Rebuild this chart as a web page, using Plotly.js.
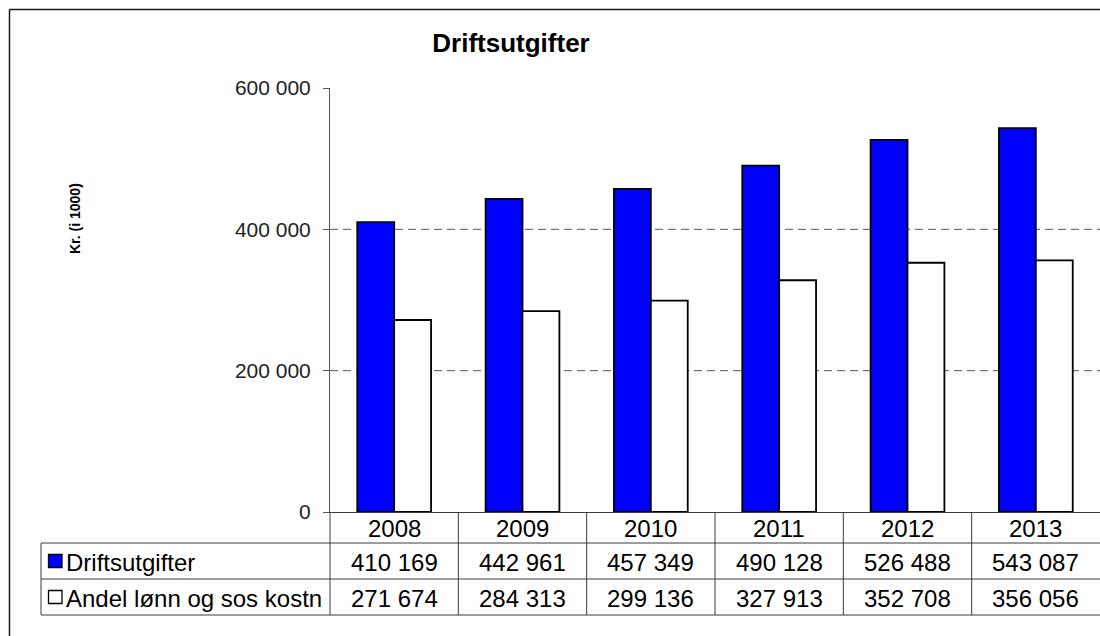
<!DOCTYPE html>
<html><head><meta charset="utf-8">
<script src="https://cdn.plot.ly/plotly-3.0.1.min.js"></script>
<style>html,body{margin:0;padding:0;overflow:hidden;background:#fff}</style>
</head><body><div id="chart" style="width:1100px;height:636px"></div>
<script>
const years = ['2008','2009','2010','2011','2012','2013'];
const driftsutgifter = [410169,442961,457349,490128,526488,543087];
const andelLonn = [271674,284313,299136,327913,352708,356056];
const seriesNames = ['Driftsutgifter','Andel lønn og sos kostn'];
const seriesColors = ['#0000FF','#FFFFFF'];
const yTickVals = [0,200000,400000,600000];
const gridVals = [200000,400000];
const chartTitle = 'Driftsutgifter';
const yTitle = 'Kr. (i 1000)';

const FONT = 'Liberation Sans, Arial, sans-serif';
const W=1100,H=636,L=330,R=0,T=88,B=124;
const PW=W-L-R, PH=H-T-B;
const px = x => (x-L)/PW;
const py = y => (H-B-y)/PH;
const fmt = v => String(v).replace(/\B(?=(\d{3})+(?!\d))/g,' ');
const n = years.length;

const seriesVals = [driftsutgifter, andelLonn];
const traces = seriesVals.map((vals,i)=>({
  type:'bar', x:years, y:vals, name:seriesNames[i],
  marker:{color:seriesColors[i], line:{color:'#000', width:1.8}},
  hoverinfo:'skip'
}));

const lineCol = '#3a3a3a';
const shapes = [];
// outer frame (cut off at right & bottom)
shapes.push({type:'line', xref:'paper', yref:'paper', x0:px(9.5), x1:px(1100), y0:py(9.5), y1:py(9.5),
  line:{color:'#1a1a1a', width:1.5}});
shapes.push({type:'line', xref:'paper', yref:'paper', x0:px(9.5), x1:px(9.5), y0:py(9.5), y1:py(636),
  line:{color:'#1a1a1a', width:1.5}});
// gridlines
gridVals.forEach(v=>shapes.push({type:'line', xref:'paper', yref:'y', x0:0, x1:1, y0:v, y1:v,
  line:{color:'#555', width:1, dash:'8px,5px'}, layer:'below'}));
// table horizontal lines
[543,579,615].forEach(y=>shapes.push({type:'line', xref:'paper', yref:'paper', x0:px(41), x1:1, y0:py(y), y1:py(y),
  line:{color:lineCol, width:1}}));
// table vertical lines between categories
for(let i=0;i<n;i++){
  shapes.push({type:'line', xref:'paper', yref:'paper', x0:i/n, x1:i/n, y0:py(512), y1:py(615),
    line:{color:lineCol, width:1}});
}
// left border of label column
shapes.push({type:'line', xref:'paper', yref:'paper', x0:px(41), x1:px(41), y0:py(543), y1:py(615),
  line:{color:lineCol, width:1}});
// legend keys
const rowCenters = [561,597];
rowCenters.forEach((c,i)=>shapes.push({type:'rect', xref:'paper', yref:'paper',
  x0:px(48.5), x1:px(62), y0:py(c-6.5), y1:py(c+6.5),
  fillcolor:seriesColors[i], line:{color:'#000', width:1.3}}));

const annotations = [];
const tfont = {family:FONT, size:24, color:'#000'};
years.forEach((yr,j)=>{
  const cx = (j+0.5)/n;
  annotations.push({xref:'paper', yref:'paper', x:cx, y:py(528), text:yr, showarrow:false, font:tfont,
    xanchor:'center', yanchor:'middle'});
  seriesVals.forEach((vals,i)=>annotations.push({xref:'paper', yref:'paper', x:cx, y:py(rowCenters[i]+1), text:fmt(vals[j]),
    showarrow:false, font:tfont, xanchor:'center', yanchor:'middle'}));
});
seriesNames.forEach((nm,i)=>annotations.push({xref:'paper', yref:'paper', x:px(64), y:py(rowCenters[i]+1), text:nm,
  showarrow:false, font:tfont, xanchor:'left', yanchor:'middle'}));
annotations.push({xref:'paper', yref:'paper', x:px(75), y:py(219), text:'<b>'+yTitle+'</b>', textangle:-90,
  showarrow:false, font:{family:FONT, size:14, color:'#000'}, xanchor:'center', yanchor:'middle'});

const layout = {
  width:W, height:H,
  margin:{l:L, r:R, t:T, b:B, pad:0},
  paper_bgcolor:'#fff', plot_bgcolor:'#fff',
  showlegend:false,
  title:{text:'<b>'+chartTitle+'</b>', font:{family:FONT, size:26, color:'#000'},
    xref:'container', yref:'container', x:511/W, xanchor:'center', y:1-43/H, yanchor:'middle'},
  barmode:'group', bargap:0.425, bargroupgap:0,
  xaxis:{type:'category', range:[-0.5, n-0.5], showticklabels:false, ticks:'', showline:true, linecolor:lineCol, linewidth:1,
    showgrid:false, zeroline:false, fixedrange:true},
  yaxis:{range:[0,600000], tickvals:yTickVals, ticktext:yTickVals.map(fmt), showgrid:false, zeroline:false,
    showline:true, linecolor:'#555', linewidth:1, ticks:'outside', ticklen:6, tickcolor:'#555', tickwidth:1,
    tickfont:{family:FONT, size:21, color:'#222'}, ticklabelstandoff:8, fixedrange:true},
  shapes:shapes, annotations:annotations
};
Plotly.newPlot('chart', traces, layout, {displayModeBar:false, staticPlot:true});
</script></body></html>
